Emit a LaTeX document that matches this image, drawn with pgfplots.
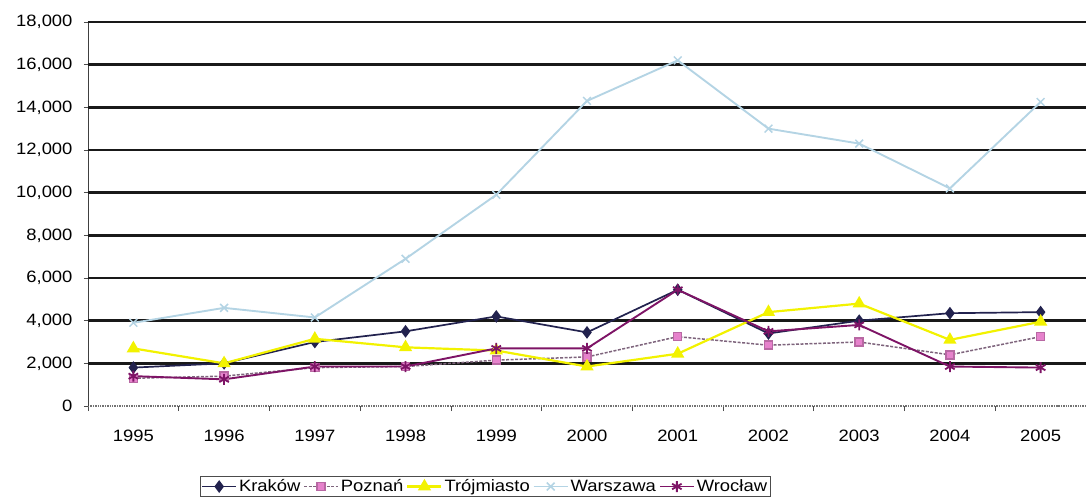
\documentclass[border=0pt]{standalone}
\usepackage{pgfplots}
\pgfplotsset{compat=1.18}
\usepackage{fontspec}
\setmainfont{Liberation Sans}[FakeStretch=1.12]
\definecolor{krak}{HTML}{22224E}
\definecolor{pozline}{HTML}{7E647C}
\definecolor{pozmark}{HTML}{E682CC}
\definecolor{trojc}{HTML}{F2F200}
\definecolor{warc}{HTML}{B4D4E4}
\definecolor{wroc}{HTML}{7E1466}
\pgfplotstableread{
x krakow poznan troj warszawa wroclaw
0 1800 1300 2700 3900 1400
1 2000 1400 2000 4600 1250
2 3000 1800 3150 4150 1850
3 3500 1850 2750 6900 1850
4 4200 2150 2600 9900 2700
5 3450 2300 1850 14300 2700
6 5450 3250 2450 16200 5450
7 3400 2850 4400 13000 3500
8 4000 3000 4800 12300 3800
9 4350 2400 3100 10200 1850
10 4400 3250 3950 14250 1800
}\datatable
\begin{document}
\begin{tikzpicture}
\begin{axis}[
  scale only axis,
  width=998bp, height=384bp,
  xmin=-0.5, xmax=10.5, ymin=0, ymax=18000,
  axis x line*=bottom, axis y line*=left,
  x axis line style={black!55, densely dotted, line width=1.4bp},
  y axis line style={black!75, line width=0.9bp},
  xtick={0,...,10},
  xticklabels={1995,1996,1997,1998,1999,2000,2001,2002,2003,2004,2005},
  minor xtick={-0.5,0.5,...,10.5},
  ytick={0,2000,...,18000},
  tick align=outside,
  x tick style={draw=none},
  minor x tick style={draw=black!70, line width=0.7bp},
  minor tick length=5bp,
  y tick style={black!70, line width=0.7bp},
  major tick length=4bp,
  extra y ticks={2000,4000,...,18000},
  extra y tick labels={},
  extra y tick style={grid=major, major tick length=0bp, major grid style={black!90, line width=2.8bp}},
  xticklabel style={font=\fontsize{16.5}{19}\selectfont, yshift=-17bp},
  yticklabel style={font=\fontsize{16.5}{19}\selectfont, xshift=-8bp},
  scaled y ticks=false,
  /pgf/number format/.cd, fixed, 1000 sep={,}, assume math mode=true,
  /pgfplots/.cd,
  clip=false,
  legend columns=5,
  legend style={at={(0.398,-0.183)}, anchor=north, draw=black!70, line width=0.9bp,
    font=\fontsize{16.5}{19}\selectfont, inner sep=1bp,
    /tikz/every even column/.append style={column sep=1bp}},
  legend image code/.code={\draw[mark repeat=2,mark phase=2] plot coordinates {(0bp,0bp) (17bp,0bp) (34bp,0bp)};},
]
\addplot[krak, line width=1.7bp, mark=diamond*, mark size=5bp, mark options={solid, fill=krak}] table[x=x,y=krakow]{\datatable};
\addlegendentry{Kraków}
\addplot[pozline, line width=1.5bp, dash pattern=on 3bp off 1.5bp, mark=square*, mark size=4bp, mark options={solid, draw=pozmark!80!black, fill=pozmark}] table[x=x,y=poznan]{\datatable};
\addlegendentry{Poznań}
\addplot[trojc, line width=2.2bp, mark=triangle*, mark size=5.5bp, mark options={solid, fill=trojc}] table[x=x,y=troj]{\datatable};
\addlegendentry{Trójmiasto}
\addplot[warc, line width=1.9bp, mark=x, mark size=5.5bp, mark options={solid, line width=1.5bp}] table[x=x,y=warszawa]{\datatable};
\addlegendentry{Warszawa}
\addplot[wroc, line width=1.9bp, mark=asterisk, mark size=5.5bp, mark options={solid, line width=1.8bp}] table[x=x,y=wroclaw]{\datatable};
\addlegendentry{Wrocław}
\end{axis}
\pgfresetboundingbox
\path[use as bounding box] (-88bp,-93bp) rectangle (998bp,406bp);
\end{tikzpicture}
\end{document}
